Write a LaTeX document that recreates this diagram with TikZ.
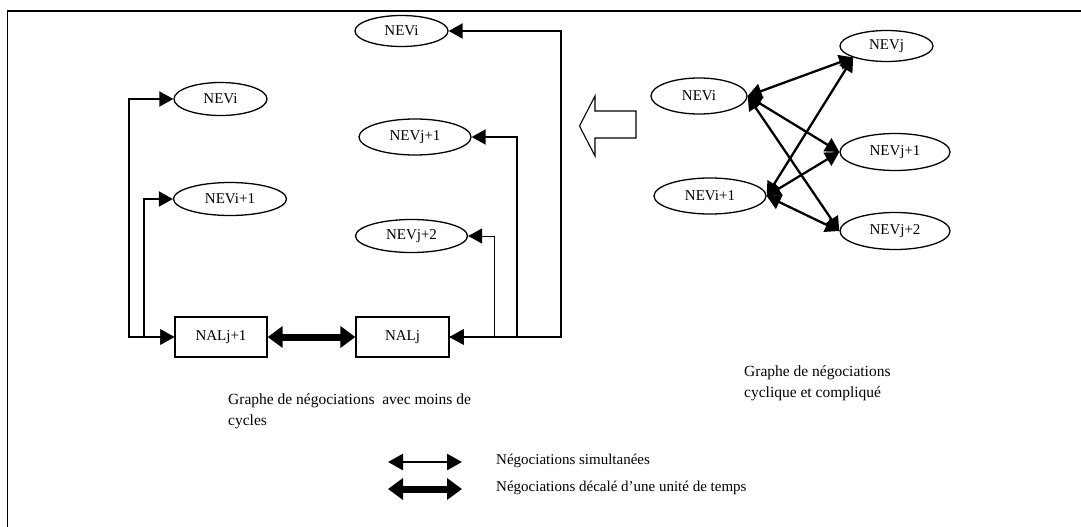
\documentclass[tikz,border=0pt]{standalone}
\usepackage{fontspec}
\setmainfont{Liberation Serif}
\usetikzlibrary{shapes.geometric,arrows.meta}
\begin{document}
\begin{tikzpicture}[x=1pt,y=-1pt,
  txt/.style={font=\fontsize{15}{21}\selectfont},
  ev/.style={ellipse,draw,line width=1.3pt,inner sep=0pt,txt},
  nal/.style={rectangle,draw,line width=1.3pt,inner sep=0pt,minimum height=40pt,txt},
  tip/.tip={Triangle[length=14pt,width=15pt]},
  con/.style={line width=2pt,tip-tip},
  thincon/.style={line width=1pt,tip-tip},
  xcon/.style={line width=2.3pt,tip-tip},
  thick2/.style={line width=7pt,{Triangle[length=15pt,width=21pt]}-{Triangle[length=15pt,width=21pt]}},
  legthin/.style={line width=2.5pt,{Triangle[length=15pt,width=16pt]}-{Triangle[length=15pt,width=16pt]}},
  captext/.style={font=\fontsize{15.5}{21}\selectfont,align=left,anchor=north west,inner sep=0pt}
]
\clip (0,0) rectangle (1081,527);
\fill[white] (0,0) rectangle (1081,527);
% frame (only top and left edges visible)
\draw[line width=1.5pt] (1090,11) -- (7.5,11) -- (7.5,540);

% ---------- left graph ----------
\node[ev,minimum width=93pt,minimum height=31pt] (NEViT) at (401.5,31) {NEVi};
\node[ev,minimum width=93pt,minimum height=33pt] (NEViL) at (220.5,99) {NEVi};
\node[ev,minimum width=113pt,minimum height=33pt] (NEVi1L) at (230,199) {NEVi+1};
\node[ev,minimum width=112pt,minimum height=36pt] (NEVj1L) at (415,137) {NEVj+1};
\node[ev,minimum width=112pt,minimum height=33pt] (NEVj2L) at (411.5,236) {NEVj+2};
\node[nal,minimum width=92pt] (NALj1) at (221,337) {NALj+1};
\node[nal,minimum width=93pt] (NALj) at (402.5,337) {NALj};

\coordinate (b1) at (128.5,337);
\coordinate (b2) at (143.5,337);
\coordinate (b3) at (561,337);
\coordinate (b4) at (517,337);
\coordinate (b5) at (494,337);

\draw[con] (NALj1.west) -- (b1) |- (NEViL.west);
\draw[con] (NALj1.west) -- (b2) |- (NEVi1L.west);
\draw[con] (NALj.east) -- (b3) |- (NEViT.east);
\draw[con] (NALj.east) -- (b4) |- (NEVj1L.east);
\draw[thincon] (NALj.east) -- (b5) |- (NEVj2L.east);
\draw[thick2] (NALj1.east) -- (NALj.west);

\node[captext] (capL) at (228,394) {Graphe de négociations~ avec moins de\\cycles};

% ---------- hollow arrow ----------
\draw[line width=1.1pt,fill=white] (579.5,126) -- (595,96) -- (595,111) -- (636,111) -- (636,138) -- (595,138) -- (595,156) -- cycle;

% ---------- right graph ----------
\node[ev,minimum width=96pt,minimum height=36pt] (NEViR) at (699,96) {NEVi};
\node[ev,minimum width=112pt,minimum height=36pt] (NEVi1R) at (710,196) {NEVi+1};
\node[ev,minimum width=93pt,minimum height=31pt] (NEVjR) at (886.5,46) {NEVj};
\node[ev,minimum width=110pt,minimum height=37pt] (NEVj1R) at (895,152) {NEVj+1};
\node[ev,minimum width=110pt,minimum height=37pt] (NEVj2R) at (895,231) {NEVj+2};

\draw[xcon] (NEViR.east) -- (NEVjR.south west);
\draw[xcon] (NEViR.east) -- (NEVj1R.west);
\draw[xcon] (NEViR.east) -- (NEVj2R.west);
\draw[xcon] (NEVi1R.east) -- (NEVjR.south west);
\draw[xcon] (NEVi1R.east) -- (NEVj1R.west);
\draw[xcon] (NEVi1R.east) -- (NEVj2R.west);

\node[captext] (capR) at (744,366) {Graphe de négociations\\cyclique et compliqué};

% ---------- legend ----------
\coordinate (l1a) at (388,462);
\coordinate (l1b) at (462,462);
\coordinate (l2a) at (388,489);
\coordinate (l2b) at (462,489);
\draw[legthin] (l1a) -- (l1b);
\draw[thick2] (l2a) -- (l2b);
\node[txt,anchor=west,inner sep=0pt] (leg1) at (496,461) {Négociations simultanées};
\node[txt,anchor=west,inner sep=0pt] (leg2) at (496,488) {Négociations décalé d'une unité de temps};
\end{tikzpicture}
\end{document}
